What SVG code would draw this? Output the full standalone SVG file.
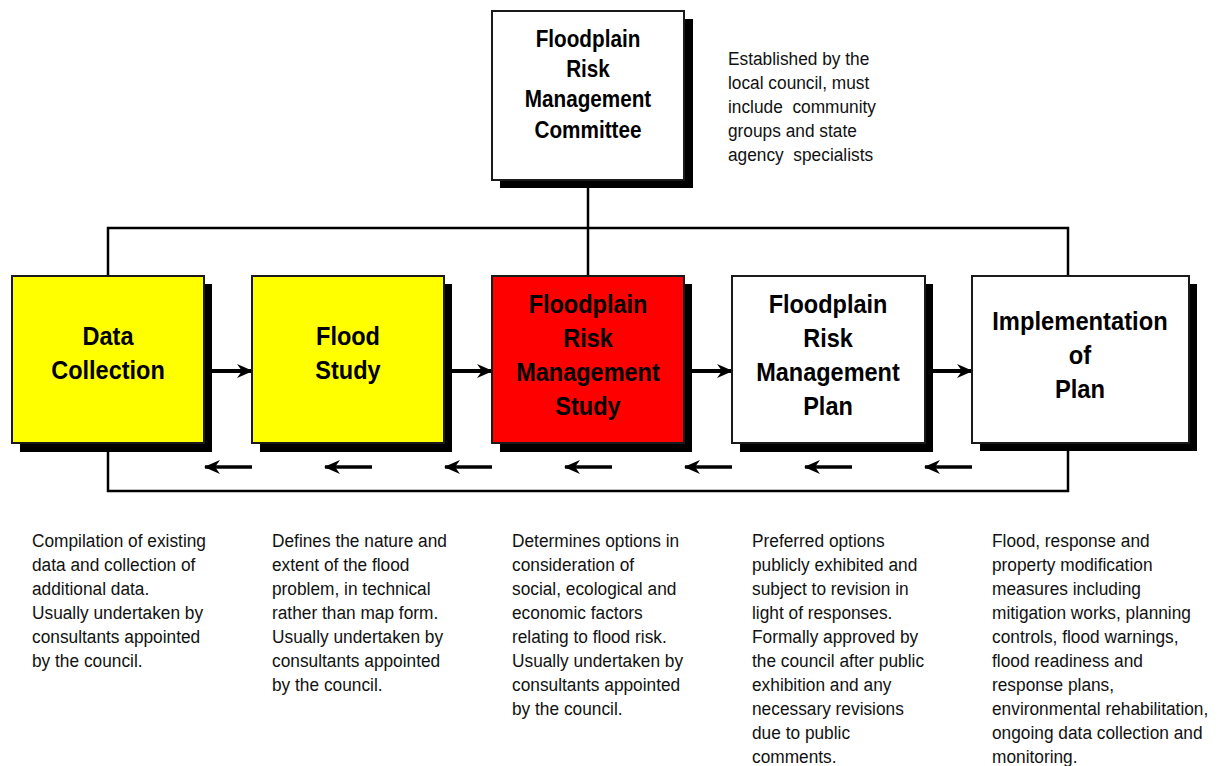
<svg xmlns="http://www.w3.org/2000/svg" width="1222" height="766" viewBox="0 0 1222 766">
<style>
.bg{fill:#ffffff}
.sh{fill:#000000}
.box{stroke:#1a1a1a;stroke-width:2}
.white{fill:#ffffff}
.yellow{fill:#ffff00}
.red{fill:#ff0000}
.t{font-family:"Liberation Sans",Arial,sans-serif;font-weight:bold;font-size:25px;fill:#000;text-anchor:middle}
.tt{font-family:"Liberation Sans",Arial,sans-serif;font-weight:bold;font-size:23px;fill:#000;text-anchor:middle}
.d{font-family:"Liberation Sans",Arial,sans-serif;font-size:18.6px;fill:#111}
.conn{fill:none;stroke:#000;stroke-width:2.5}
.fwd{stroke:#000;stroke-width:4;marker-end:url(#ah)}
.back{stroke:#000;stroke-width:3.5;marker-end:url(#ah)}
</style>
<defs>
<marker id="ah" markerUnits="userSpaceOnUse" viewBox="0 0 16 14" markerWidth="16" markerHeight="14" refX="15" refY="7" orient="auto">
<path d="M0,0 L16,7 L0,14 L5,7 z" fill="#000"/>
</marker>
</defs>
<rect class="bg" x="0" y="0" width="1222" height="766"/>

<g id="connectors">
<path class="conn" d="M588,187 V276"/>
<path class="conn" d="M108,276 V228 H1068 V276"/>
<path class="conn" d="M108,451 V491 H1068 V451"/>
<line class="fwd" x1="212" y1="371" x2="252" y2="371"/>
<line class="fwd" x1="452" y1="371" x2="492" y2="371"/>
<line class="fwd" x1="692" y1="371" x2="732" y2="371"/>
<line class="fwd" x1="933" y1="371" x2="972" y2="371"/>
<line class="back" x1="252" y1="467" x2="205" y2="467"/>
<line class="back" x1="372" y1="467" x2="325" y2="467"/>
<line class="back" x1="492" y1="467" x2="445" y2="467"/>
<line class="back" x1="612" y1="467" x2="565" y2="467"/>
<line class="back" x1="732" y1="467" x2="685" y2="467"/>
<line class="back" x1="852" y1="467" x2="805" y2="467"/>
<line class="back" x1="972" y1="467" x2="925" y2="467"/>
</g>

<g id="committee">
<rect class="sh" x="500" y="19" width="193" height="169"/>
<rect class="box white" x="492" y="11" width="192" height="169"/>
<g transform="translate(588,0) scale(0.9,1)">
<text class="tt" x="0" y="47">Floodplain</text>
<text class="tt" x="0" y="77">Risk</text>
<text class="tt" x="0" y="107">Management</text>
<text class="tt" x="0" y="138">Committee</text>
</g>
</g>

<g id="committee-note" transform="translate(728,0) scale(0.93,1)">
<text class="d" x="0" y="65">Established by the</text>
<text class="d" x="0" y="89">local council, must</text>
<text class="d" x="0" y="113" xml:space="preserve">include  community</text>
<text class="d" x="0" y="137">groups and state</text>
<text class="d" x="0" y="161" xml:space="preserve">agency  specialists</text>
</g>

<g id="data-collection">
<rect class="sh" x="20" y="284" width="192" height="168"/>
<rect class="box yellow" x="12" y="276" width="192" height="167"/>
<g transform="translate(108,0) scale(0.94,1)">
<text class="t" x="0" y="345">Data</text>
<text class="t" x="0" y="379">Collection</text>
</g>
</g>

<g id="flood-study">
<rect class="sh" x="260" y="284" width="192" height="168"/>
<rect class="box yellow" x="252" y="276" width="192" height="167"/>
<g transform="translate(348,0) scale(0.94,1)">
<text class="t" x="0" y="345">Flood</text>
<text class="t" x="0" y="379">Study</text>
</g>
</g>

<g id="fp-study">
<rect class="sh" x="500" y="284" width="192" height="168"/>
<rect class="box red" x="492" y="276" width="192" height="167"/>
<g transform="translate(588,0) scale(0.94,1)">
<text class="t" x="0" y="313">Floodplain</text>
<text class="t" x="0" y="347">Risk</text>
<text class="t" x="0" y="381">Management</text>
<text class="t" x="0" y="415">Study</text>
</g>
</g>

<g id="fp-plan">
<rect class="sh" x="740" y="284" width="193" height="168"/>
<rect class="box white" x="732" y="276" width="193" height="167"/>
<g transform="translate(828,0) scale(0.94,1)">
<text class="t" x="0" y="313">Floodplain</text>
<text class="t" x="0" y="347">Risk</text>
<text class="t" x="0" y="381">Management</text>
<text class="t" x="0" y="415">Plan</text>
</g>
</g>

<g id="implementation">
<rect class="sh" x="980" y="284" width="217" height="167"/>
<rect class="box white" x="972" y="276" width="217" height="167"/>
<g transform="translate(1080,0) scale(0.95,1)">
<text class="t" x="0" y="330">Implementation</text>
<text class="t" x="0" y="364">of</text>
<text class="t" x="0" y="398">Plan</text>
</g>
</g>

<g id="desc-data" transform="translate(32,0) scale(0.93,1)">
<text class="d" x="0" y="547">Compilation of existing</text>
<text class="d" x="0" y="571">data and collection of</text>
<text class="d" x="0" y="595">additional data.</text>
<text class="d" x="0" y="619">Usually undertaken by</text>
<text class="d" x="0" y="643">consultants appointed</text>
<text class="d" x="0" y="667">by the council.</text>
</g>

<g id="desc-flood" transform="translate(272,0) scale(0.93,1)">
<text class="d" x="0" y="547">Defines the nature and</text>
<text class="d" x="0" y="571">extent of the flood</text>
<text class="d" x="0" y="595">problem, in technical</text>
<text class="d" x="0" y="619">rather than map form.</text>
<text class="d" x="0" y="643">Usually undertaken by</text>
<text class="d" x="0" y="667">consultants appointed</text>
<text class="d" x="0" y="691">by the council.</text>
</g>

<g id="desc-study" transform="translate(512,0) scale(0.93,1)">
<text class="d" x="0" y="547">Determines options in</text>
<text class="d" x="0" y="571">consideration of</text>
<text class="d" x="0" y="595">social, ecological and</text>
<text class="d" x="0" y="619">economic factors</text>
<text class="d" x="0" y="643">relating to flood risk.</text>
<text class="d" x="0" y="667">Usually undertaken by</text>
<text class="d" x="0" y="691">consultants appointed</text>
<text class="d" x="0" y="715">by the council.</text>
</g>

<g id="desc-plan" transform="translate(752,0) scale(0.93,1)">
<text class="d" x="0" y="547">Preferred options</text>
<text class="d" x="0" y="571">publicly exhibited and</text>
<text class="d" x="0" y="595">subject to revision in</text>
<text class="d" x="0" y="619">light of responses.</text>
<text class="d" x="0" y="643">Formally approved by</text>
<text class="d" x="0" y="667">the council after public</text>
<text class="d" x="0" y="691">exhibition and any</text>
<text class="d" x="0" y="715">necessary revisions</text>
<text class="d" x="0" y="739">due to public</text>
<text class="d" x="0" y="763">comments.</text>
</g>

<g id="desc-impl" transform="translate(992,0) scale(0.93,1)">
<text class="d" x="0" y="547">Flood, response and</text>
<text class="d" x="0" y="571">property modification</text>
<text class="d" x="0" y="595">measures including</text>
<text class="d" x="0" y="619">mitigation works, planning</text>
<text class="d" x="0" y="643">controls, flood warnings,</text>
<text class="d" x="0" y="667">flood readiness and</text>
<text class="d" x="0" y="691">response plans,</text>
<text class="d" x="0" y="715">environmental rehabilitation,</text>
<text class="d" x="0" y="739">ongoing data collection and</text>
<text class="d" x="0" y="763">monitoring.</text>
</g>
</svg>
